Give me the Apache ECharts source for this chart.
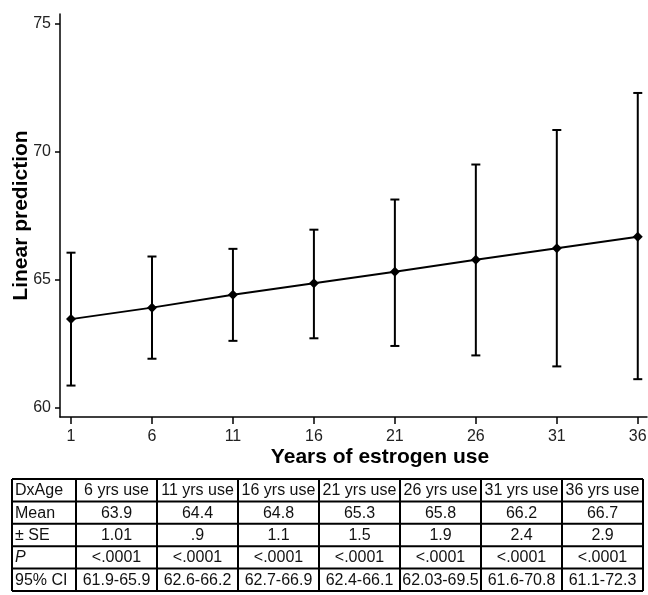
<!DOCTYPE html>
<html>
<head>
<meta charset="utf-8">
<script src="https://cdn.jsdelivr.net/npm/echarts@6/dist/echarts.min.js"></script>
<style>
html,body{margin:0;padding:0;background:#fff;}
#main{width:648px;height:595px;}
</style>
</head>
<body>
<div id="main"></div>
<script>
// ---- data ----
var years = [1, 6, 11, 16, 21, 26, 31, 36];
var prediction = [63.45, 63.9, 64.4, 64.85, 65.3, 65.77, 66.22, 66.67];
var ciLow = [60.85, 61.9, 62.6, 62.7, 62.4, 62.03, 61.6, 61.1];
var ciHigh = [66.05, 65.9, 66.2, 66.95, 68.13, 69.5, 70.85, 72.3];
var xTicks = [1, 6, 11, 16, 21, 26, 31, 36];
var yTicks = [60, 65, 70, 75];

var tableHeader = ["DxAge", "6 yrs use", "11 yrs use", "16 yrs use", "21 yrs use", "26 yrs use", "31 yrs use", "36 yrs use"];
var tableMean = ["63.9", "64.4", "64.8", "65.3", "65.8", "66.2", "66.7"];
var tableSE = ["1.01", ".9", "1.1", "1.5", "1.9", "2.4", "2.9"];
var tableP = ["<.0001", "<.0001", "<.0001", "<.0001", "<.0001", "<.0001", "<.0001"];
var tableCI = ["61.9-65.9", "62.6-66.2", "62.7-66.9", "62.4-66.1", "62.03-69.5", "61.6-70.8", "61.1-72.3"];
var rowLabels = ["Mean", "\u00b1 SE", "P", "95% CI"];

var FONT = '"Liberation Sans", Arial, Helvetica, sans-serif';

// ---- table graphic ----
var colX = [12, 76, 157, 238, 319, 400, 481, 562, 643];
var rowTop = 479, rowH = 22.4;
var tableRows = [tableHeader,
  [rowLabels[0]].concat(tableMean),
  [rowLabels[1]].concat(tableSE),
  [rowLabels[2]].concat(tableP),
  [rowLabels[3]].concat(tableCI)];
var graphics = [];
var nRows = tableRows.length;
var tBottom = rowTop + nRows * rowH;
for (var r = 0; r <= nRows; r++) {
  graphics.push({type: 'line', shape: {x1: colX[0], y1: rowTop + r * rowH, x2: colX[colX.length - 1], y2: rowTop + r * rowH},
    style: {stroke: '#000', lineWidth: 2}});
}
for (var c = 0; c < colX.length; c++) {
  graphics.push({type: 'line', shape: {x1: colX[c], y1: rowTop, x2: colX[c], y2: tBottom},
    style: {stroke: '#000', lineWidth: 2}});
}
tableRows.forEach(function (row, ri) {
  row.forEach(function (txt, ci) {
    var cy = rowTop + ri * rowH + rowH / 2 + 0.5;
    var first = ci === 0;
    graphics.push({type: 'text',
      x: first ? colX[0] + 3 : (colX[ci] + colX[ci + 1]) / 2,
      y: cy,
      style: {text: txt, fill: '#111', font: (first && ri === 3 ? 'italic ' : '') + '16px ' + FONT,
        align: first ? 'left' : 'center', verticalAlign: 'middle'}});
  });
});

var chart = echarts.init(document.getElementById('main'));
chart.setOption({
  animation: false,
  backgroundColor: '#fff',
  grid: {left: 60, right: 1, top: 14, bottom: 178, containLabel: false, outerBoundsMode: 'none'},
  xAxis: {
    type: 'value', min: 0.32, max: 36.57,
    name: 'Years of estrogen use', nameLocation: 'middle', nameGap: 30, nameMoveOverlap: false,
    nameTextStyle: {fontFamily: FONT, fontWeight: 'bold', fontSize: 21, color: '#000', padding: [0, 0, 0, 53]},
    axisLine: {show: true, lineStyle: {color: '#000', width: 1.5}},
    axisTick: {show: true, length: 7, lineStyle: {color: '#000', width: 1.5}, customValues: xTicks},
    axisLabel: {fontFamily: FONT, fontSize: 16, color: '#222', margin: 12, customValues: xTicks},
    splitLine: {show: false}
  },
  yAxis: {
    type: 'value', min: 59.62, max: 75.39,
    name: 'Linear prediction', nameLocation: 'middle', nameGap: 28, nameMoveOverlap: false,
    nameTextStyle: {fontFamily: FONT, fontWeight: 'bold', fontSize: 21, color: '#000'},
    axisLine: {show: true, lineStyle: {color: '#000', width: 1.5}},
    axisTick: {show: true, length: 5, lineStyle: {color: '#000', width: 1.5}, customValues: yTicks},
    axisLabel: {fontFamily: FONT, fontSize: 16, color: '#222', margin: 9, customValues: yTicks},
    splitLine: {show: false}
  },
  series: [
    {
      type: 'custom',
      data: years.map(function (x, i) { return [x, ciLow[i], ciHigh[i]]; }),
      renderItem: function (params, api) {
        var lo = api.coord([api.value(0), api.value(1)]);
        var hi = api.coord([api.value(0), api.value(2)]);
        var w = 4.5;
        var st = {stroke: '#000', lineWidth: 2};
        return {type: 'group', children: [
          {type: 'line', shape: {x1: lo[0], y1: lo[1], x2: hi[0], y2: hi[1]}, style: st},
          {type: 'line', shape: {x1: lo[0] - w, y1: lo[1], x2: lo[0] + w, y2: lo[1]}, style: st},
          {type: 'line', shape: {x1: hi[0] - w, y1: hi[1], x2: hi[0] + w, y2: hi[1]}, style: st}
        ]};
      },
      z: 2
    },
    {
      type: 'line',
      data: years.map(function (x, i) { return [x, prediction[i]]; }),
      symbol: 'diamond', symbolSize: 10,
      itemStyle: {color: '#000'},
      lineStyle: {color: '#000', width: 2},
      z: 3
    }
  ],
  graphic: graphics
});
</script>
</body>
</html>
